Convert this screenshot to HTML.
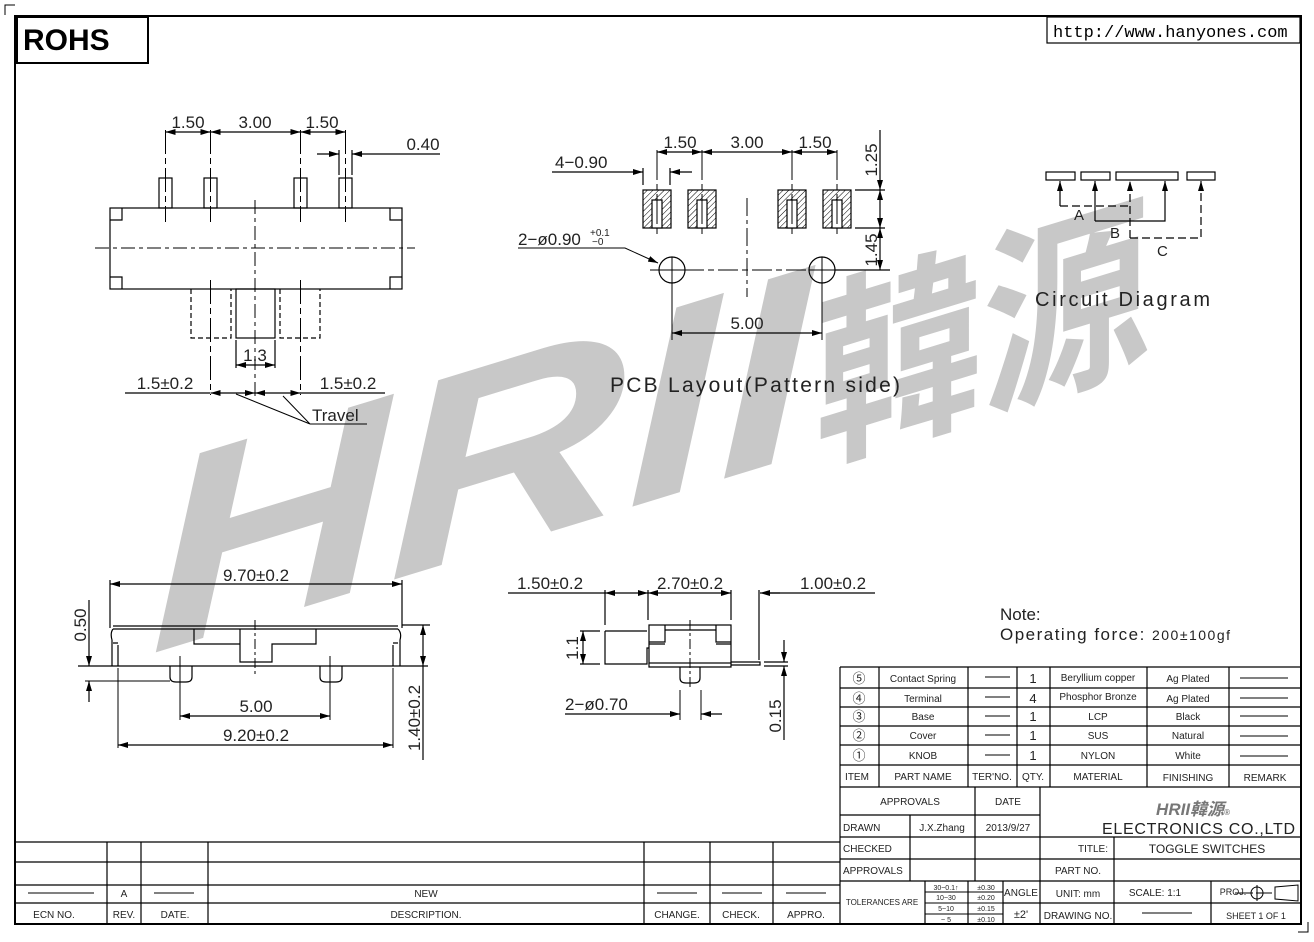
<!DOCTYPE html>
<html><head><meta charset="utf-8"><style>
html,body{margin:0;padding:0;background:#fff;}
svg{display:block;}
text{font-family:"Liberation Sans","Noto Sans CJK SC",sans-serif;fill:#222;}
</style></head><body>
<svg width="1314" height="942" viewBox="0 0 1314 942" xmlns="http://www.w3.org/2000/svg">
<defs>
<marker id="a" viewBox="0 0 10 6" refX="10" refY="3" markerWidth="10" markerHeight="6" orient="auto-start-reverse" markerUnits="userSpaceOnUse"><path d="M0,0 L10,3 L0,6z" fill="#000"/></marker>
<pattern id="h" width="4" height="4" patternUnits="userSpaceOnUse" patternTransform="rotate(45)"><line x1="0" y1="0" x2="0" y2="4" stroke="#000" stroke-width="1"/></pattern>
</defs>
<!-- watermark -->
<g transform="skewY(-17)" fill="#c8c8c8">
<text x="150" y="700" font-size="270" font-weight="bold" font-style="italic" textLength="660" lengthAdjust="spacingAndGlyphs" style="fill:#c8c8c8">HRII</text>
<text x="815" y="705" font-size="200" font-weight="bold" textLength="335" lengthAdjust="spacingAndGlyphs" style="fill:#c8c8c8">韓源</text>
</g>
<g fill="none" stroke="#000" stroke-width="1.2">
<rect x="15" y="16" width="1286" height="908" stroke-width="2"/>
<path d="M5,15 V5 H15 M1298,932 H1308 V922" stroke-width="1"/>
<rect x="17" y="17" width="131" height="46" stroke-width="2"/>
<rect x="1047" y="17" width="253" height="26"/>

<rect x="110" y="208" width="292" height="81"/>
<path d="M110,220 H122 V208 M390,208 V220 H402 M110,277 H122 V289 M390,289 V277 H402"/>
<rect x="159" y="178" width="13" height="30"/><rect x="204" y="178" width="13" height="30"/>
<rect x="294" y="178" width="13" height="30"/><rect x="339" y="178" width="13" height="30"/>
<path d="M95,248 H415" stroke-dasharray="14,4,4,4" stroke-width="1"/>
<path d="M255,200 V400" stroke-dasharray="14,4,4,4" stroke-width="1"/>
<path d="M165.5,130 V222 M210.5,130 V222 M300.5,130 V222 M345.5,130 V222 M210.5,280 V395 M300.5,280 V395" stroke-dasharray="24,4,6,4" stroke-width="1"/>
<path d="M191,289 V338 H231 V289 M280,289 V338 H320 V289" stroke-dasharray="5,3"/>
<rect x="236" y="289" width="39" height="49"/>
<path d="M165.5,132 H210.5" marker-start="url(#a)" marker-end="url(#a)"/>
<path d="M210.5,132 H300.5" marker-start="url(#a)" marker-end="url(#a)"/>
<path d="M300.5,132 H345.5" marker-start="url(#a)" marker-end="url(#a)"/>
<path d="M339,150 V175 M352,150 V175"/>
<path d="M317,154 H339" marker-end="url(#a)"/><path d="M440,154 H352" marker-end="url(#a)"/>
<path d="M236,340 V368 M275,340 V368"/>
<path d="M236,365 H275" marker-start="url(#a)" marker-end="url(#a)"/>
<path d="M125,393 H210 M300,393 H385"/>
<path d="M210.5,393 H255" marker-start="url(#a)" marker-end="url(#a)"/>
<path d="M255,393 H300.5" marker-start="url(#a)" marker-end="url(#a)"/>
<path d="M310,424 L236,394 M310,424 L283,396 M310,424 H367" stroke-width="1"/>

<rect x="643" y="190" width="28" height="38" fill="url(#h)"/><rect x="652" y="200" width="10" height="28" fill="#fff"/>
<rect x="688" y="190" width="28" height="38" fill="url(#h)"/><rect x="697" y="200" width="10" height="28" fill="#fff"/>
<rect x="778" y="190" width="28" height="38" fill="url(#h)"/><rect x="787" y="200" width="10" height="28" fill="#fff"/>
<rect x="823" y="190" width="28" height="38" fill="url(#h)"/><rect x="832" y="200" width="10" height="28" fill="#fff"/>
<path d="M657,150 V236 M702,150 V236 M792,150 V236 M837,150 V236" stroke-dasharray="30,4,6,4" stroke-width="1"/>
<path d="M747,198 V297" stroke-dasharray="18,4,4,4" stroke-width="1"/>
<path d="M650,270 H890" stroke-dasharray="20,4,6,4" stroke-width="1"/>
<circle cx="672" cy="270" r="13"/><circle cx="822" cy="270" r="13"/>
<path d="M672,257 V340 M822,257 V340 M659,270 H685 M809,270 H835" stroke-width="1"/>
<path d="M657,152 H702" marker-start="url(#a)" marker-end="url(#a)"/>
<path d="M702,152 H792" marker-start="url(#a)" marker-end="url(#a)"/>
<path d="M792,152 H837" marker-start="url(#a)" marker-end="url(#a)"/>
<path d="M643,168 V185 M670,168 V185"/>
<path d="M552,172 H643" marker-end="url(#a)"/><path d="M692,172 H670" marker-end="url(#a)"/>
<path d="M672,333 H822" marker-start="url(#a)" marker-end="url(#a)"/>
<path d="M855,190 H885 M855,228 H885 M835,270 H890"/>
<path d="M880,130 V190" marker-end="url(#a)"/><path d="M880,190 V228" marker-start="url(#a)" marker-end="url(#a)"/><path d="M880,228 V270" marker-start="url(#a)" marker-end="url(#a)"/>
<path d="M518,248 H625 L658,263" marker-end="url(#a)" stroke-width="1"/>

<rect x="1046" y="172" width="29" height="8"/><rect x="1081" y="172" width="29" height="8"/>
<rect x="1116" y="172" width="62" height="8"/><rect x="1187" y="172" width="28" height="8"/>
<path d="M1060,206 V181" marker-end="url(#a)"/><path d="M1060,206 H1130" stroke-dasharray="8,4"/>
<path d="M1095,221 V181" marker-end="url(#a)"/><path d="M1095,221 H1165 V181" marker-end="url(#a)"/>
<path d="M1130,238 V181" marker-end="url(#a)" stroke-dasharray="8,4"/><path d="M1130,238 H1201 V181" marker-end="url(#a)" stroke-dasharray="8,4"/>

<path d="M110,580 V628 M402,580 V628"/>
<path d="M110,584 H402" marker-start="url(#a)" marker-end="url(#a)"/>
<path d="M113,626 H398 M113,629 H398 M78,666 H428"/>
<path d="M113,629 Q110,633 112,640 V666 M398,629 Q402,633 400,640 V666 M118,645 V666 M393,645 V666 M113,643 H118 M393,643 H398"/>
<path d="M194,629 V644 H240 M240,629 V662 H272 V644 H316 V629"/>
<path d="M255,620 V676" stroke-dasharray="10,3,3,3" stroke-width="1"/>
<path d="M170,666 V677 Q170,682 176,682 H186 Q192,682 192,677 V666 M320,666 V677 Q320,682 326,682 H336 Q342,682 342,677 V666"/>
<path d="M180,656 V720 M330,656 V720" stroke-width="1"/>
<path d="M180,716 H330" marker-start="url(#a)" marker-end="url(#a)"/>
<path d="M118,668 V748 M393,668 V748" stroke-width="1"/>
<path d="M118,745 H393" marker-start="url(#a)" marker-end="url(#a)"/>
<path d="M89,600 V666" marker-end="url(#a)"/><path d="M89,702 V681" marker-end="url(#a)"/><path d="M85,681 H170" stroke-width="1"/>
<path d="M402,625 H430"/><path d="M423,625 V666" marker-start="url(#a)" marker-end="url(#a)"/><path d="M423,666 V760"/>

<path d="M508,593 H605 M770,593 H875"/>
<path d="M605,593 H648" marker-start="url(#a)" marker-end="url(#a)"/>
<path d="M648,593 H731" marker-start="url(#a)" marker-end="url(#a)"/>
<path d="M780,593 H760" marker-end="url(#a)"/>
<path d="M605,590 V625 M648,590 V620 M731,590 V620 M759,590 V660"/>
<path d="M605,631 H647 M605,631 V664 H647 V648 H649"/>
<rect x="649" y="625" width="82" height="38"/>
<path d="M649,663 V667 H731 V663 M731,662 H760 V665 H731"/>
<path d="M649,642 H665 V625 M649,644 H665 M731,642 H716 V625 M731,644 H716 M665,630 H716"/>
<path d="M680,667 V678 Q680,683 686,683 H694 Q700,683 700,678 V667"/>
<path d="M690,620 V690" stroke-dasharray="10,3,3,3" stroke-width="1"/>
<path d="M580,631 H600 M580,664 H600"/><path d="M583,631 V664" marker-start="url(#a)" marker-end="url(#a)"/>
<path d="M764,662 H788 M764,666 H788"/>
<path d="M784,640 V662" marker-end="url(#a)"/><path d="M784,740 V666" marker-end="url(#a)"/>
<path d="M680,690 V720 M701,690 V720" stroke-width="1"/>
<path d="M565,714 H680" marker-end="url(#a)"/><path d="M722,714 H701" marker-end="url(#a)"/>

<path d="M840,667 H1301 M840,688 H1301 M840,707 H1301 M840,726 H1301 M840,745 H1301 M840,765 H1301 M840,787 H1301"/>
<path d="M840,667 V925 M879,667 V787 M968,667 V787 M1017,667 V787 M1050,667 V787 M1147,667 V787 M1229,667 V787"/>
<path d="M840,815 H1040 M840,837 H1301 M840,859 H1301 M840,881 H1301 M1040,903 H1301"/>
<path d="M975,787 V881 M910,815 V881 M1040,787 V925 M1114,837 V925 M1211,881 V925 M925,881 V925 M968,881 V925 M1003,881 V925 M1003,903 H1040"/>
<path d="M925,892 H1003 M925,903 H1003 M925,914 H1003" stroke-width="1"/>
<path d="M1256,893 H1272 M1235,893 H1253 M1275,887 L1298,885 V901 L1275,899 Z" stroke-width="1"/>
<circle cx="1257" cy="893" r="6" stroke-width="1"/><path d="M1257,885 V901" stroke-width="1"/>
<path d="M985,677 H1010 M985,697 H1010 M985,716 H1010 M985,735 H1010 M985,755 H1010 M1240,678 H1288 M1240,698 H1288 M1240,716 H1288 M1240,736 H1288 M1240,756 H1288 M1142,913 H1192" stroke-width="1"/>

<path d="M15,842 H840 M15,862 H840 M15,885 H840 M15,903 H840"/>
<path d="M107,842 V925 M141,842 V925 M208,842 V925 M644,842 V925 M710,842 V925 M773,842 V925"/>
<path d="M28,893 H94 M154,893 H194 M657,893 H697 M722,893 H762 M786,893 H826" stroke-width="1"/>
</g>

<g font-size="17">
<text x="23" y="50" font-size="30" font-weight="bold" style="fill:#000">ROHS</text>
<text x="1053" y="37" font-size="17" style="font-family:'Liberation Mono',monospace;fill:#000">http://www.hanyones.com</text>
<text x="188" y="128" text-anchor="middle">1.50</text><text x="255" y="128" text-anchor="middle">3.00</text><text x="322" y="128" text-anchor="middle">1.50</text>
<text x="423" y="150" text-anchor="middle">0.40</text>
<text x="255" y="361" text-anchor="middle">1.3</text>
<text x="165" y="389" text-anchor="middle">1.5±0.2</text><text x="348" y="389" text-anchor="middle">1.5±0.2</text>
<text x="312" y="421">Travel</text>
<text x="680" y="148" text-anchor="middle">1.50</text><text x="747" y="148" text-anchor="middle">3.00</text><text x="815" y="148" text-anchor="middle">1.50</text>
<text x="555" y="168">4−0.90</text>
<text x="518" y="245">2−ø0.90</text><text x="590" y="236" font-size="10">+0.1</text><text x="592" y="245" font-size="10">−0</text>
<text x="747" y="329" text-anchor="middle">5.00</text>
<text transform="translate(877,160) rotate(-90)" text-anchor="middle">1.25</text>
<text transform="translate(877,250) rotate(-90)" text-anchor="middle">1.45</text>
<text x="610" y="392" font-size="21" textLength="290">PCB  Layout(Pattern  side)</text>
<text x="1074" y="220" font-size="15">A</text><text x="1110" y="238" font-size="15">B</text><text x="1157" y="256" font-size="15">C</text>
<text x="1035" y="306" font-size="20" textLength="175">Circuit  Diagram</text>
<text x="1000" y="620" font-size="17">Note:</text>
<text x="1000" y="640" font-size="17" textLength="230">Operating  force: <tspan font-size="14">200±100gf</tspan></text>
<text x="256" y="581" text-anchor="middle">9.70±0.2</text>
<text transform="translate(86,625) rotate(-90)" text-anchor="middle">0.50</text>
<text x="256" y="712" text-anchor="middle">5.00</text>
<text x="256" y="741" text-anchor="middle">9.20±0.2</text>
<text transform="translate(420,718) rotate(-90)" text-anchor="middle">1.40±0.2</text>
<text x="550" y="589" text-anchor="middle">1.50±0.2</text><text x="690" y="589" text-anchor="middle">2.70±0.2</text><text x="833" y="589" text-anchor="middle">1.00±0.2</text>
<text transform="translate(578,648) rotate(-90)" text-anchor="middle">1.1</text>
<text x="565" y="710">2−ø0.70</text>
<text transform="translate(781,716) rotate(-90)" text-anchor="middle">0.15</text>
</g>
<g font-size="10" text-anchor="middle">
<text x="859" y="683" font-size="13">⑤</text><text x="859" y="703" font-size="13">④</text><text x="859" y="721" font-size="13">③</text><text x="859" y="740" font-size="13">②</text><text x="859" y="760" font-size="13">①</text>
<text x="923" y="682">Contact  Spring</text><text x="923" y="702">Terminal</text><text x="923" y="720">Base</text><text x="923" y="739">Cover</text><text x="923" y="759">KNOB</text>
<text x="1033" y="683" font-size="13">1</text><text x="1033" y="703" font-size="13">4</text><text x="1033" y="721" font-size="13">1</text><text x="1033" y="740" font-size="13">1</text><text x="1033" y="760" font-size="13">1</text>
<text x="1098" y="681">Beryllium  copper</text><text x="1098" y="700">Phosphor  Bronze</text><text x="1098" y="720">LCP</text><text x="1098" y="739">SUS</text><text x="1098" y="759">NYLON</text>
<text x="1188" y="682">Ag  Plated</text><text x="1188" y="702">Ag  Plated</text><text x="1188" y="720">Black</text><text x="1188" y="739">Natural</text><text x="1188" y="759">White</text>
<text x="857" y="780">ITEM</text><text x="923" y="780">PART  NAME</text><text x="992" y="780">TER'NO.</text><text x="1033" y="780">QTY.</text><text x="1098" y="780">MATERIAL</text><text x="1188" y="781">FINISHING</text><text x="1265" y="781">REMARK</text>
<text x="910" y="805">APPROVALS</text><text x="1008" y="805">DATE</text>
<text x="1008" y="831">2013/9/27</text><text x="942" y="831">J.X.Zhang</text>
<text x="1093" y="852">TITLE:</text><text x="1207" y="853" font-size="12">TOGGLE  SWITCHES</text>
<text x="1078" y="874">PART  NO.</text>
<text x="1021" y="896">ANGLE</text><text x="1021" y="918" font-size="11">±2'</text>
<text x="1078" y="897">UNIT:  mm</text><text x="1078" y="919">DRAWING  NO.</text>
<text x="1155" y="896">SCALE:    1:1</text><text x="1233" y="895" font-size="9">PROJ.</text><text x="1256" y="919" font-size="9">SHEET   1  OF  1</text>
<text x="946" y="890" font-size="7">30~0.1↑</text><text x="946" y="900" font-size="7">10~30</text><text x="946" y="911" font-size="7">5~10</text><text x="946" y="922" font-size="7">~ 5</text>
<text x="986" y="890" font-size="7">±0.30</text><text x="986" y="900" font-size="7">±0.20</text><text x="986" y="911" font-size="7">±0.15</text><text x="986" y="922" font-size="7">±0.10</text>
<text x="882" y="905" font-size="8">TOLERANCES  ARE</text>
<text x="1102" y="834" font-size="16" text-anchor="start" textLength="193">ELECTRONICS  CO.,LTD</text>
<text x="1193" y="815" font-size="17" font-weight="bold" font-style="italic" style="fill:#777">HRII韓源<tspan font-size="8">®</tspan></text>
<text x="54" y="918">ECN  NO.</text><text x="124" y="897">A</text><text x="124" y="918">REV.</text><text x="175" y="918">DATE.</text><text x="426" y="897">NEW</text><text x="426" y="918">DESCRIPTION.</text><text x="677" y="918">CHANGE.</text><text x="741" y="918">CHECK.</text><text x="806" y="918">APPRO.</text>
</g>
<g font-size="10">
<text x="843" y="831">DRAWN</text><text x="843" y="852">CHECKED</text><text x="843" y="874">APPROVALS</text>
</g>
</svg>
</body></html>
